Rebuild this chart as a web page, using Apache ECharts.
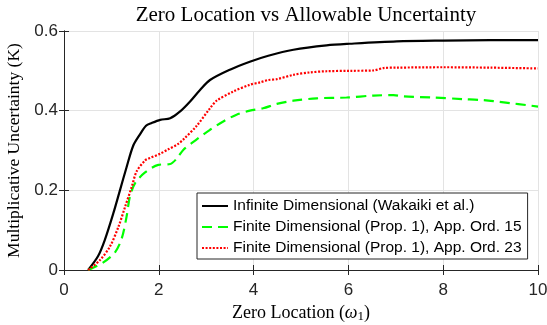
<!DOCTYPE html>
<html><head><meta charset="utf-8">
<script src="https://cdn.jsdelivr.net/npm/echarts@6/dist/echarts.min.js"></script>
<style>html,body{margin:0;padding:0;background:#fff}#c{width:547px;height:325px}</style>
</head><body><div id="c"></div>
<script>
const xTicks = [0, 2, 4, 6, 8, 10];
const yTicks = [0, 0.2, 0.4, 0.6];
const seriesNames = [
  'Infinite Dimensional (Wakaiki et al.)',
  'Finite Dimensional (Prop. 1), App. Ord. 15',
  'Finite Dimensional (Prop. 1), App. Ord. 23'
];
const infX = [0.51, 0.72, 0.86, 1.04, 1.18, 1.32, 1.46, 1.6, 1.73, 1.85, 2.03, 2.24, 2.45, 2.66, 2.87, 3.08, 3.5, 3.92, 4.31, 4.84, 5.54, 6.03, 7.02, 8.0, 9.0, 10.0];
const infY = [0, 0.035, 0.075, 0.142, 0.2, 0.258, 0.312, 0.34, 0.362, 0.369, 0.377, 0.381, 0.398, 0.423, 0.452, 0.477, 0.503, 0.523, 0.538, 0.553, 0.564, 0.568, 0.574, 0.576, 0.577, 0.577];
const ord15X = [0.51, 0.83, 1.08, 1.22, 1.32, 1.39, 1.5, 1.71, 1.99, 2.24, 2.38, 2.52, 2.8, 3.08, 3.36, 3.64, 3.92, 4.2, 4.49, 4.84, 5.33, 5.96, 6.53, 6.95, 7.16, 7.79, 8.42, 8.78, 9.06, 9.41, 9.76, 10.0];
const ord15Y = [0, 0.019, 0.045, 0.08, 0.134, 0.184, 0.218, 0.245, 0.264, 0.266, 0.28, 0.302, 0.328, 0.352, 0.373, 0.39, 0.4, 0.406, 0.417, 0.425, 0.431, 0.433, 0.438, 0.439, 0.436, 0.433, 0.429, 0.427, 0.424, 0.419, 0.414, 0.41];
const ord23X = [0.51, 0.76, 0.97, 1.15, 1.29, 1.43, 1.53, 1.71, 1.81, 2.03, 2.2, 2.4, 2.52, 2.8, 3.08, 3.22, 3.57, 3.92, 4.14, 4.31, 4.49, 4.84, 5.19, 5.54, 6.03, 6.53, 6.74, 7.02, 8.0, 9.0, 10.0];
const ord23Y = [0, 0.025, 0.059, 0.109, 0.159, 0.209, 0.247, 0.275, 0.281, 0.292, 0.303, 0.316, 0.328, 0.362, 0.406, 0.425, 0.448, 0.465, 0.471, 0.477, 0.479, 0.49, 0.496, 0.499, 0.5, 0.501, 0.507, 0.508, 0.509, 0.508, 0.506];

const pairs = (xs, ys) => xs.map((x, i) => [x, ys[i]]);
const axisCol = '#262626';
const gridCol = '#e3e3e3';
const tickFont = {fontFamily: 'Liberation Sans', fontSize: 17, color: axisCol};

const chart = echarts.init(document.getElementById('c'), null, {renderer: 'canvas'});
chart.setOption({
  animation: false,
  backgroundColor: '#fff',
  title: {
    text: 'Zero Location vs Allowable Uncertainty',
    left: 301, top: 0, textAlign: 'center',
    textStyle: {fontFamily: 'Liberation Serif', fontSize: 21, fontWeight: 'normal', color: '#000'}
  },
  grid: {left: 64, right: 9, top: 31, bottom: 55, containLabel: false, outerBoundsMode: 'none'},
  xAxis: [{
    type: 'value', min: 0, max: 10, interval: 2,
    axisLine: {lineStyle: {color: axisCol, width: 1}},
    axisTick: {inside: true, length: 5, lineStyle: {color: axisCol}},
    splitLine: {show: true, lineStyle: {color: gridCol, width: 1}},
    axisLabel: Object.assign({margin: 12, formatter: v => xTicks.includes(v) ? String(v) : ''}, tickFont),
    name: '{n|Zero Location (}{w|ω}{s|1}{n|)}',
    nameLocation: 'middle', nameGap: 30,
    nameTextStyle: {
      rich: {
        n: {fontFamily: 'Liberation Serif', fontSize: 18, color: '#000'},
        w: {fontFamily: 'Liberation Serif', fontStyle: 'italic', fontSize: 18, color: '#000'},
        s: {fontFamily: 'Liberation Serif', fontSize: 13, color: '#000', verticalAlign: 'bottom', padding: [8, 0, 0, 0]}
      }
    }
  }, {
    type: 'value', min: 0, max: 10, interval: 2, position: 'top',
    axisLine: {lineStyle: {color: axisCol, width: 1}},
    axisTick: {inside: true, length: 5, lineStyle: {color: axisCol}},
    splitLine: {show: false}, axisLabel: {show: false}
  }],
  yAxis: [{
    type: 'value', min: 0, max: 0.6, interval: 0.2,
    axisLine: {show: true, lineStyle: {color: axisCol, width: 1}},
    axisTick: {show: true, inside: true, length: 5, lineStyle: {color: axisCol}},
    splitLine: {show: true, lineStyle: {color: gridCol, width: 1}},
    axisLabel: Object.assign({margin: 6, formatter: v => String(+v.toFixed(1))}, tickFont),
    name: 'Multiplicative Uncertainty (K)',
    nameLocation: 'middle', nameGap: 39,
    nameTextStyle: {fontFamily: 'Liberation Serif', fontSize: 17.5, color: '#000'}
  }, {
    type: 'value', min: 0, max: 0.6, interval: 0.2, position: 'right',
    axisLine: {show: true, lineStyle: {color: axisCol, width: 1}},
    axisTick: {show: true, inside: true, length: 5, lineStyle: {color: axisCol}},
    splitLine: {show: false}, axisLabel: {show: false}
  }],
  legend: {
    orient: 'vertical', left: 197, top: 193,
    padding: [5, 6, 3, 4],
    itemWidth: 26, itemHeight: 16, itemGap: 5,
    backgroundColor: '#fff', borderColor: axisCol, borderWidth: 1,
    itemStyle: {opacity: 0},
    textStyle: {fontFamily: 'Liberation Sans', fontSize: 15.5, color: '#000'},
    data: seriesNames
  },
  series: [
    {name: seriesNames[0], type: 'line', data: pairs(infX, infY), symbol: 'none', smooth: 0.3,
     lineStyle: {color: '#000', width: 2.2, type: 'solid'}, itemStyle: {color: '#000'}},
    {name: seriesNames[1], type: 'line', data: pairs(ord15X, ord15Y), symbol: 'none', smooth: 0.3,
     lineStyle: {color: '#00ff00', width: 2.2, type: [10, 6]}, itemStyle: {color: '#00ff00'}},
    {name: seriesNames[2], type: 'line', data: pairs(ord23X, ord23Y), symbol: 'none', smooth: 0.3,
     lineStyle: {color: '#ff0000', width: 2.2, type: [2, 1.6]}, itemStyle: {color: '#ff0000'}}
  ]
});
</script></body></html>
